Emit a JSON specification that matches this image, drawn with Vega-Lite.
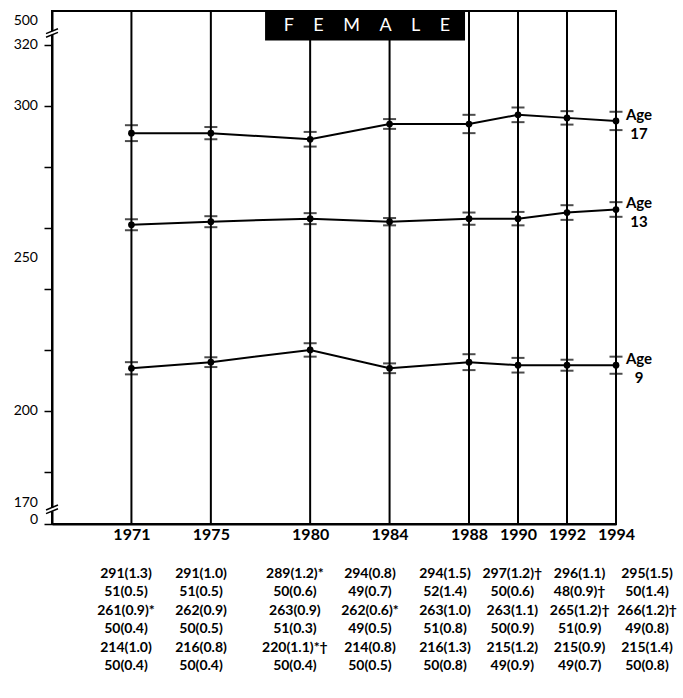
{
  "$schema": "https://vega.github.io/schema/vega-lite/v6.json",
  "padding": {"left": 12, "top": 9, "right": 0, "bottom": 0},
  "background": "white",
  "spacing": 24,
  "config": {
    "view": {"stroke": null},
    "font": "Lato",
    "axis": {"labelOverlap": false}
  },
  "datasets": {
    "years": [
      {"year": 1971}, {"year": 1975}, {"year": 1980}, {"year": 1984},
      {"year": 1988}, {"year": 1990}, {"year": 1992}, {"year": 1994}
    ],
    "ylabels": [
      {"value": 331, "label": "500"},
      {"value": 320, "label": "320"},
      {"value": 300, "label": "300"},
      {"value": 250, "label": "250"},
      {"value": 200, "label": "200"},
      {"value": 170, "label": "170"},
      {"value": 163, "label": "0"}
    ],
    "scores": [
      {"age": "17", "year": 1971, "score": 291, "se": 1.3, "lo": 288.4, "hi": 293.6},
      {"age": "17", "year": 1975, "score": 291, "se": 1.0, "lo": 289.0, "hi": 293.0},
      {"age": "17", "year": 1980, "score": 289, "se": 1.2, "lo": 286.6, "hi": 291.4},
      {"age": "17", "year": 1984, "score": 294, "se": 0.8, "lo": 292.4, "hi": 295.6},
      {"age": "17", "year": 1988, "score": 294, "se": 1.5, "lo": 291.0, "hi": 297.0},
      {"age": "17", "year": 1990, "score": 297, "se": 1.2, "lo": 294.6, "hi": 299.4},
      {"age": "17", "year": 1992, "score": 296, "se": 1.1, "lo": 293.8, "hi": 298.2},
      {"age": "17", "year": 1994, "score": 295, "se": 1.5, "lo": 292.0, "hi": 298.0},
      {"age": "13", "year": 1971, "score": 261, "se": 0.9, "lo": 259.2, "hi": 262.8},
      {"age": "13", "year": 1975, "score": 262, "se": 0.9, "lo": 260.2, "hi": 263.8},
      {"age": "13", "year": 1980, "score": 263, "se": 0.9, "lo": 261.2, "hi": 264.8},
      {"age": "13", "year": 1984, "score": 262, "se": 0.6, "lo": 260.8, "hi": 263.2},
      {"age": "13", "year": 1988, "score": 263, "se": 1.0, "lo": 261.0, "hi": 265.0},
      {"age": "13", "year": 1990, "score": 263, "se": 1.1, "lo": 260.8, "hi": 265.2},
      {"age": "13", "year": 1992, "score": 265, "se": 1.2, "lo": 262.6, "hi": 267.4},
      {"age": "13", "year": 1994, "score": 266, "se": 1.2, "lo": 263.6, "hi": 268.4},
      {"age": "9", "year": 1971, "score": 214, "se": 1.0, "lo": 212.0, "hi": 216.0},
      {"age": "9", "year": 1975, "score": 216, "se": 0.8, "lo": 214.4, "hi": 217.6},
      {"age": "9", "year": 1980, "score": 220, "se": 1.1, "lo": 217.8, "hi": 222.2},
      {"age": "9", "year": 1984, "score": 214, "se": 0.8, "lo": 212.4, "hi": 215.6},
      {"age": "9", "year": 1988, "score": 216, "se": 1.3, "lo": 213.4, "hi": 218.6},
      {"age": "9", "year": 1990, "score": 215, "se": 1.2, "lo": 212.6, "hi": 217.4},
      {"age": "9", "year": 1992, "score": 215, "se": 0.9, "lo": 213.2, "hi": 216.8},
      {"age": "9", "year": 1994, "score": 215, "se": 1.4, "lo": 212.2, "hi": 217.8}
    ],
    "agelabels": [
      {"age": "17", "year": 1994, "score": 295, "label": "Age\n17"},
      {"age": "13", "year": 1994, "score": 266, "label": "Age\n13"},
      {"age": "9", "year": 1994, "score": 215, "label": "Age\n9"}
    ],
    "table": [
      {"year": 1971, "row": "r1", "label": "291(1.3)"},
      {"year": 1975, "row": "r1", "label": "291(1.0)"},
      {"year": 1980, "row": "r1", "label": "289(1.2)*"},
      {"year": 1984, "row": "r1", "label": "294(0.8)"},
      {"year": 1988, "row": "r1", "label": "294(1.5)"},
      {"year": 1990, "row": "r1", "label": "297(1.2)†"},
      {"year": 1992, "row": "r1", "label": "296(1.1)"},
      {"year": 1994, "row": "r1", "label": "295(1.5)"},
      {"year": 1971, "row": "r2", "label": "51(0.5)"},
      {"year": 1975, "row": "r2", "label": "51(0.5)"},
      {"year": 1980, "row": "r2", "label": "50(0.6)"},
      {"year": 1984, "row": "r2", "label": "49(0.7)"},
      {"year": 1988, "row": "r2", "label": "52(1.4)"},
      {"year": 1990, "row": "r2", "label": "50(0.6)"},
      {"year": 1992, "row": "r2", "label": "48(0.9)†"},
      {"year": 1994, "row": "r2", "label": "50(1.4)"},
      {"year": 1971, "row": "r3", "label": "261(0.9)*"},
      {"year": 1975, "row": "r3", "label": "262(0.9)"},
      {"year": 1980, "row": "r3", "label": "263(0.9)"},
      {"year": 1984, "row": "r3", "label": "262(0.6)*"},
      {"year": 1988, "row": "r3", "label": "263(1.0)"},
      {"year": 1990, "row": "r3", "label": "263(1.1)"},
      {"year": 1992, "row": "r3", "label": "265(1.2)†"},
      {"year": 1994, "row": "r3", "label": "266(1.2)†"},
      {"year": 1971, "row": "r4", "label": "50(0.4)"},
      {"year": 1975, "row": "r4", "label": "50(0.5)"},
      {"year": 1980, "row": "r4", "label": "51(0.3)"},
      {"year": 1984, "row": "r4", "label": "49(0.5)"},
      {"year": 1988, "row": "r4", "label": "51(0.8)"},
      {"year": 1990, "row": "r4", "label": "50(0.9)"},
      {"year": 1992, "row": "r4", "label": "51(0.9)"},
      {"year": 1994, "row": "r4", "label": "49(0.8)"},
      {"year": 1971, "row": "r5", "label": "214(1.0)"},
      {"year": 1975, "row": "r5", "label": "216(0.8)"},
      {"year": 1980, "row": "r5", "label": "220(1.1)*†"},
      {"year": 1984, "row": "r5", "label": "214(0.8)"},
      {"year": 1988, "row": "r5", "label": "216(1.3)"},
      {"year": 1990, "row": "r5", "label": "215(1.2)"},
      {"year": 1992, "row": "r5", "label": "215(0.9)"},
      {"year": 1994, "row": "r5", "label": "215(1.4)"},
      {"year": 1971, "row": "r6", "label": "50(0.4)"},
      {"year": 1975, "row": "r6", "label": "50(0.4)"},
      {"year": 1980, "row": "r6", "label": "50(0.4)"},
      {"year": 1984, "row": "r6", "label": "50(0.5)"},
      {"year": 1988, "row": "r6", "label": "50(0.8)"},
      {"year": 1990, "row": "r6", "label": "49(0.9)"},
      {"year": 1992, "row": "r6", "label": "49(0.7)"},
      {"year": 1994, "row": "r6", "label": "50(0.8)"}
    ]
  },
  "vconcat": [
    {
      "width": 564,
      "height": 513,
      "view": {"stroke": "black", "strokeWidth": 2},
      "layer": [
        {
          "data": {"name": "scores"},
          "mark": {"type": "line", "color": "black", "strokeWidth": 2},
          "encoding": {
            "x": {
              "field": "year", "type": "quantitative",
              "scale": {"domain": [1967, 1988, 1994], "range": [0, 417, 564], "nice": false, "zero": false},
              "axis": {
                "values": [1971, 1975, 1980, 1984, 1988, 1990, 1992, 1994],
                "format": "d", "title": null, "grid": false, "labelOverlap": false, "labelFlush": false,
                "tickSize": 0, "labelPadding": 2,
                "labelFontSize": 16, "labelFontWeight": "bold", "labelColor": "black",
                "domainColor": "black", "domainWidth": 2
              }
            },
            "y": {
              "field": "score", "type": "quantitative",
              "scale": {"domain": [163, 331], "nice": false, "zero": false},
              "axis": {
                "values": [163, 170, 180, 190, 200, 210, 220, 230, 240, 250, 260, 270, 280, 290, 300, 310, 320, 331],
                "labels": false, "title": null, "grid": false,
                "tickSize": 8, "tickWidth": 1.5, "tickColor": "black",
                "domainColor": "black", "domainWidth": 2
              }
            },
            "detail": {"field": "age", "type": "nominal"}
          }
        },
        {
          "data": {"name": "years"},
          "mark": {"type": "rule", "color": "black", "strokeWidth": 2},
          "encoding": {
            "x": {"field": "year", "type": "quantitative"}
          }
        },
        {
          "data": {"name": "ylabels"},
          "transform": [{"filter": "datum.label != '500' && datum.label != '0'"}],
          "mark": {"type": "text", "align": "right", "baseline": "middle", "dx": -14, "fontSize": 14, "color": "black"},
          "encoding": {
            "x": {"datum": 1967},
            "y": {"field": "value", "type": "quantitative"},
            "text": {"field": "label"}
          }
        },
        {
          "data": {"name": "ylabels"},
          "transform": [{"filter": "datum.label == '500'"}],
          "mark": {"type": "text", "align": "right", "baseline": "top", "dx": -14, "dy": 3, "fontSize": 14, "color": "black"},
          "encoding": {
            "x": {"datum": 1967},
            "y": {"field": "value", "type": "quantitative"},
            "text": {"field": "label"}
          }
        },
        {
          "data": {"name": "ylabels"},
          "transform": [{"filter": "datum.label == '0'"}],
          "mark": {"type": "text", "align": "right", "baseline": "middle", "dx": -14, "dy": -4, "fontSize": 14, "color": "black"},
          "encoding": {
            "x": {"datum": 1967},
            "y": {"field": "value", "type": "quantitative"},
            "text": {"field": "label"}
          }
        },
        {
          "data": {"name": "scores"},
          "mark": {"type": "point", "filled": true, "color": "black", "size": 45, "opacity": 1},
          "encoding": {
            "x": {"field": "year", "type": "quantitative"},
            "y": {"field": "score", "type": "quantitative"}
          }
        },
        {
          "data": {"name": "scores"},
          "mark": {"type": "tick", "orient": "horizontal", "color": "black", "size": 13, "thickness": 2},
          "encoding": {
            "x": {"field": "year", "type": "quantitative"},
            "y": {"field": "lo", "type": "quantitative"}
          }
        },
        {
          "data": {"name": "scores"},
          "mark": {"type": "tick", "orient": "horizontal", "color": "black", "size": 13, "thickness": 2},
          "encoding": {
            "x": {"field": "year", "type": "quantitative"},
            "y": {"field": "hi", "type": "quantitative"}
          }
        },
        {
          "data": {"name": "agelabels"},
          "mark": {"type": "text", "lineBreak": "\n", "align": "center", "baseline": "middle", "dx": 23, "dy": -6, "fontSize": 15, "fontWeight": "bold", "color": "black", "lineHeight": 19},
          "encoding": {
            "x": {"field": "year", "type": "quantitative"},
            "y": {"field": "score", "type": "quantitative"},
            "text": {"field": "label"}
          }
        },
        {
          "data": {"values": [{}]},
          "mark": {"type": "rect", "color": "black"},
          "encoding": {
            "x": {"datum": 1977.73}, "x2": {"datum": 1987.8},
            "y": {"datum": 321.3}, "y2": {"datum": 331}
          }
        },
        {
          "data": {"values": [{}]},
          "mark": {"type": "text", "text": "F\u2003\u2004E\u2003\u2004M\u2003\u2004A\u2003\u2004L\u2003\u2004E", "color": "white", "fontSize": 18, "font": "Lato", "align": "center", "baseline": "middle"},
          "encoding": {
            "x": {"datum": 1982.86},
            "y": {"datum": 326.2}
          }
        },
        {
          "data": {"values": [{}]},
          "mark": {"type": "rule", "color": "white", "strokeWidth": 4},
          "encoding": {"x": {"datum": 1967}, "y": {"datum": 323.2}, "y2": {"datum": 324.4}}
        },
        {
          "data": {"values": [{}]},
          "mark": {"type": "rule", "color": "black", "strokeWidth": 1.5},
          "encoding": {"x": {"datum": 1966.7}, "x2": {"datum": 1967.3}, "y": {"datum": 322.4}, "y2": {"datum": 324.0}}
        },
        {
          "data": {"values": [{}]},
          "mark": {"type": "rule", "color": "black", "strokeWidth": 1.5},
          "encoding": {"x": {"datum": 1966.7}, "x2": {"datum": 1967.3}, "y": {"datum": 323.6}, "y2": {"datum": 325.2}}
        },
        {
          "data": {"values": [{}]},
          "mark": {"type": "rule", "color": "white", "strokeWidth": 4},
          "encoding": {"x": {"datum": 1967}, "y": {"datum": 167.2}, "y2": {"datum": 168.4}}
        },
        {
          "data": {"values": [{}]},
          "mark": {"type": "rule", "color": "black", "strokeWidth": 1.5},
          "encoding": {"x": {"datum": 1966.7}, "x2": {"datum": 1967.3}, "y": {"datum": 166.4}, "y2": {"datum": 168.0}}
        },
        {
          "data": {"values": [{}]},
          "mark": {"type": "rule", "color": "black", "strokeWidth": 1.5},
          "encoding": {"x": {"datum": 1966.7}, "x2": {"datum": 1967.3}, "y": {"datum": 167.6}, "y2": {"datum": 169.2}}
        }
      ]
    },
    {
      "width": 564,
      "height": 92,
      "data": {"name": "table"},
      "mark": {"type": "text", "fontSize": 14, "fontWeight": "bold", "color": "black", "align": "center", "baseline": "middle"},
      "encoding": {
        "x": {
          "field": "year", "type": "quantitative",
          "scale": {"domain": [1971, 1988, 1994], "range": [74, 393, 595], "nice": false, "zero": false},
          "axis": null
        },
        "y": {"field": "row", "type": "ordinal", "scale": {"type": "point", "padding": 0}, "axis": null},
        "text": {"field": "label"}
      }
    }
  ],
  "resolve": {"scale": {"x": "independent", "y": "independent"}}
}
